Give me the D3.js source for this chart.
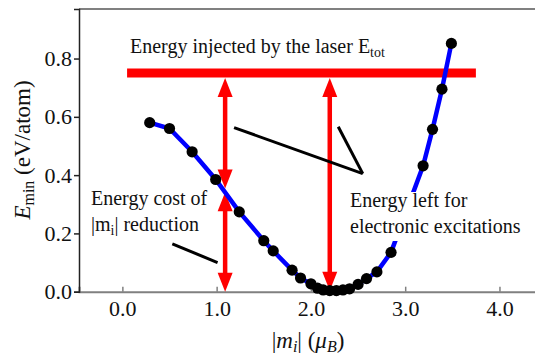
<!DOCTYPE html>
<html>
<head>
<meta charset="utf-8">
<script src="https://cdn.jsdelivr.net/npm/d3@7/dist/d3.min.js"></script>
<style>
  html, body { margin: 0; padding: 0; background: #fff; }
  svg text { font-family: 'Liberation Serif', 'Tinos', 'Nimbus Roman', 'DejaVu Serif', serif; }
</style>
</head>
<body>
<svg id="chart" width="535" height="356"></svg>
<script>
// Minimum energy per atom vs. local moment magnitude
const moment = [0.29, 0.50, 0.74, 0.99, 1.24, 1.50, 1.60, 1.80, 1.89, 2.00, 2.07, 2.13, 2.20, 2.27, 2.34, 2.41, 2.50, 2.59, 2.70, 2.85, 3.19, 3.29, 3.39, 3.49];
const energy = [0.58, 0.56, 0.48, 0.385, 0.274, 0.175, 0.14, 0.074, 0.047, 0.027, 0.012, 0.006, 0.004, 0.004, 0.006, 0.01, 0.025, 0.045, 0.068, 0.135, 0.432, 0.557, 0.695, 0.852];

// Laser energy level and annotation arrows
const eTot = 0.75;
const eTotSpan = [0.05, 3.75];
const costArrowX = 1.09;
const costSplit = 0.35;
const leftArrowX = 2.20;

// Axis ticks
const xTicks = [0, 1, 2, 3, 4];
const yTicks = [0, 0.2, 0.4, 0.6, 0.8];

// Pointer lines for the text notes: [x1, y1, x2, y2] in data units
const pointers = [
  [1.185, 0.563, 2.55, 0.405],
  [2.29, 0.566, 2.55, 0.405],
  [0.53, 0.164, 1.01, 0.100]
];

const SERIF = "'Liberation Serif', 'Tinos', 'Nimbus Roman', 'DejaVu Serif', serif";
const svg = d3.select("#chart");
const x = d3.scaleLinear().domain([-0.46, 4.43]).range([79, 540]);
const y = d3.scaleLinear().domain([0, 0.97]).range([291.7, 9]);

const RED = "#ff0000";

// Frame
svg.append("line").attr("x1", 79).attr("x2", 540).attr("y1", y(0.97)).attr("y2", y(0.97))
  .attr("stroke", "#808080").attr("stroke-width", 2);

// Axes
const xAxis = d3.axisBottom(x).tickValues(xTicks).tickFormat(d3.format(".1f")).tickSize(-5).tickPadding(9);
const gx = svg.append("g").attr("transform", `translate(0,${y(0)})`).call(xAxis)
  .attr("font-family", SERIF);
gx.select(".domain").attr("stroke", "#808080").attr("stroke-width", 2);
gx.selectAll(".tick line").attr("stroke", "#808080").attr("stroke-width", 1.5);
gx.selectAll(".tick text").attr("font-size", 22).attr("fill", "#111");

const yAxis = d3.axisLeft(y).tickValues(yTicks).tickFormat(d3.format(".1f")).tickSize(5).tickPadding(2);
const gy = svg.append("g").attr("transform", `translate(${x.range()[0]},0)`).call(yAxis)
  .attr("font-family", SERIF);
gy.select(".domain").attr("stroke", "#222").attr("stroke-width", 1.5);
gy.selectAll(".tick line").attr("stroke", "#222").attr("stroke-width", 1.5);
gy.selectAll(".tick text").attr("font-size", 22).attr("fill", "#111");

// Double-headed vertical arrow between two energy values
function vArrow(xv, yTop, yBot) {
  const px = x(xv), t = y(yTop), b = y(yBot);
  const hl = 19, hw = 7.5;
  const g = svg.append("g").attr("fill", RED);
  g.append("line").attr("x1", px).attr("x2", px).attr("y1", t + hl - 2).attr("y2", b - hl + 2)
    .attr("stroke", RED).attr("stroke-width", 4.5);
  g.append("path").attr("d", `M${px},${t} L${px - hw},${t + hl} L${px + hw},${t + hl} Z`);
  g.append("path").attr("d", `M${px},${b} L${px - hw},${b - hl} L${px + hw},${b - hl} Z`);
}
vArrow(costArrowX, eTot - 0.017, costSplit + 0.004);
vArrow(costArrowX, costSplit - 0.009, 0);
vArrow(leftArrowX, eTot - 0.017, 0.003);

// Laser energy bar
svg.append("line")
  .attr("x1", x(eTotSpan[0])).attr("x2", x(eTotSpan[1]))
  .attr("y1", y(eTot)).attr("y2", y(eTot))
  .attr("stroke", RED).attr("stroke-width", 9);

// Energy curve
const pts = moment.map((m, i) => [m, energy[i]]);
svg.append("path").datum(pts)
  .attr("fill", "none").attr("stroke", "#0000ff").attr("stroke-width", 4.5)
  .attr("d", d3.line().x(d => x(d[0])).y(d => y(d[1])));

// Pointer lines
svg.selectAll("line.ptr").data(pointers).join("line").attr("class", "ptr")
  .attr("x1", d => x(d[0])).attr("y1", d => y(d[1]))
  .attr("x2", d => x(d[2])).attr("y2", d => y(d[3]))
  .attr("stroke", "#000").attr("stroke-width", 3);

// White backing box behind the right-hand note
svg.append("rect").attr("x", 347).attr("y", 192).attr("width", 182).attr("height", 49).attr("fill", "#fff");

svg.selectAll("circle.pt").data(pts).join("circle").attr("class", "pt")
  .attr("cx", d => x(d[0])).attr("cy", d => y(d[1])).attr("r", 5.6).attr("fill", "#000");

const note = (tx, ty) => svg.append("text").attr("x", tx).attr("y", ty)
  .attr("font-family", SERIF).attr("font-size", 20).attr("fill", "#111");

const t1 = note(130, 53);
t1.append("tspan").text("Energy injected by the laser E");
t1.append("tspan").attr("font-size", 14).attr("dy", 4).text("tot");

note(91, 205).text("Energy cost of");
const t3 = note(91, 231);
t3.append("tspan").text("|m");
t3.append("tspan").attr("font-size", 14).attr("dy", 4).text("i");
t3.append("tspan").attr("dy", -4).text("| reduction");

note(350, 207).text("Energy left for");
note(350, 233).text("electronic excitations");

// Axis titles
const xl = svg.append("text").attr("x", 308).attr("y", 348).attr("text-anchor", "middle")
  .attr("font-family", SERIF).attr("font-size", 23).attr("fill", "#111");
xl.append("tspan").text("|");
xl.append("tspan").attr("font-style", "italic").text("m");
xl.append("tspan").attr("font-style", "italic").attr("font-size", 16).attr("dy", 4).text("i");
xl.append("tspan").attr("dy", -4).text("| (");
xl.append("tspan").attr("font-style", "italic").text("μ");
xl.append("tspan").attr("font-style", "italic").attr("font-size", 16).attr("dy", 4).text("B");
xl.append("tspan").attr("dy", -4).text(")");

const yl = svg.append("text").attr("transform", "translate(30,150) rotate(-90)")
  .attr("font-family", SERIF).attr("text-anchor", "middle").attr("font-size", 23).attr("fill", "#111");
yl.append("tspan").attr("font-style", "italic").text("E");
yl.append("tspan").attr("font-size", 16).attr("dy", 4).text("min");
yl.append("tspan").attr("dy", -4).text(" (eV/atom)");
</script>
</body>
</html>
